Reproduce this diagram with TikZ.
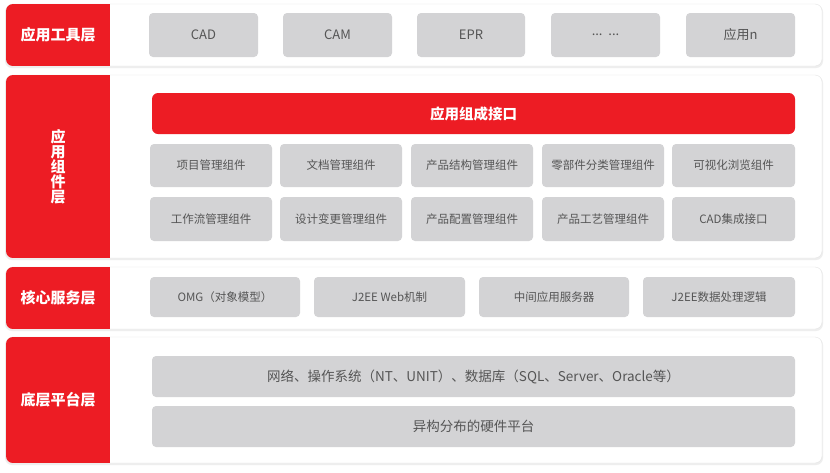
\documentclass[tikz,border=0pt]{standalone}
\usepackage{fontspec}
\setmainfont{Noto Sans CJK SC}
\definecolor{lred}{HTML}{ED1C24}
\definecolor{gbg}{HTML}{D3D3D5}
\definecolor{gtxt}{HTML}{555555}
\definecolor{edge}{HTML}{E4E4E4}
\definecolor{shad}{HTML}{EEEEEE}
\tikzset{
  gbox/.style={fill=gbg, rounded corners=4pt, inner sep=0pt, outer sep=0pt, text=gtxt, font=\fontsize{11.5}{13}\selectfont},
  gboxL/.style={gbox, font=\fontsize{13}{15}\selectfont},
  gboxB/.style={gbox, font=\fontsize{13.5}{15}\selectfont},
  redbar/.style={fill=lred, rounded corners=6pt, inner sep=0pt, text=white, font=\fontsize{14.5}{16}\selectfont\bfseries},
  lbl/.style={text=white, font=\fontsize{15}{15}\selectfont\bfseries, align=center, inner sep=0pt},
}
\newcommand{\layerbox}[2]{%
  \fill[shad, rounded corners=7pt] (5,#1+1) rectangle (823,#2+2);
  \draw[edge, fill=white, rounded corners=7pt] (6,#1) rectangle (822,#2);
  \begin{scope}
    \clip[rounded corners=7pt] (6,#1) rectangle (822,#2);
    \fill[lred] (6,#1) rectangle (110,#2);
  \end{scope}
}
\begin{document}
\begin{tikzpicture}[x=1pt,y=-1pt]
\useasboundingbox (0,0) rectangle (830,472);
\fill[white] (0,0) rectangle (830,472);
% layer 1
\layerbox{4}{66}
\node[lbl] (l1) at (58,35) {应用工具层};
\node[gboxL, minimum width=109pt, minimum height=44pt] (a1) at (203.5,35) {CAD};
\node[gboxL, minimum width=109pt, minimum height=44pt] (a2) at (337.5,35) {CAM};
\node[gboxL, minimum width=108pt, minimum height=44pt] (a3) at (471,35) {EPR};
\node[gboxL, minimum width=109pt, minimum height=44pt] (a4) at (605.5,35) {...\ \ ...};
\node[gboxL, minimum width=109pt, minimum height=44pt] (a5) at (740.5,35) {应用n};
% layer 2
\layerbox{75}{258}
\node[lbl] (l2) at (58,166.5) {应\\用\\组\\件\\层};
\node[redbar, minimum width=643pt, minimum height=41pt] (bar) at (473.5,113.5) {应用组成接口};
\node[gbox, minimum width=122pt, minimum height=43pt] (b1) at (211,165.5) {项目管理组件};
\node[gbox, minimum width=122pt, minimum height=43pt] (b2) at (341,165.5) {文档管理组件};
\node[gbox, minimum width=122pt, minimum height=43pt] (b3) at (472,165.5) {产品结构管理组件};
\node[gbox, minimum width=122pt, minimum height=43pt] (b4) at (603,165.5) {零部件分类管理组件};
\node[gbox, minimum width=123pt, minimum height=43pt] (b5) at (733.5,165.5) {可视化浏览组件};
\node[gbox, minimum width=122pt, minimum height=44pt] (c1) at (211,219) {工作流管理组件};
\node[gbox, minimum width=122pt, minimum height=44pt] (c2) at (341,219) {设计变更管理组件};
\node[gbox, minimum width=122pt, minimum height=44pt] (c3) at (472,219) {产品配置管理组件};
\node[gbox, minimum width=122pt, minimum height=44pt] (c4) at (603,219) {产品工艺管理组件};
\node[gbox, minimum width=123pt, minimum height=44pt] (c5) at (733.5,219) {CAD集成接口};
% layer 3
\layerbox{267}{329}
\node[lbl] (l3) at (58,298) {核心服务层};
\node[gbox, minimum width=150pt, minimum height=40pt] (d1) at (225,297) {OMG（对象模型）};
\node[gbox, minimum width=151pt, minimum height=40pt] (d2) at (389.5,297) {J2EE Web机制};
\node[gbox, minimum width=150pt, minimum height=40pt] (d3) at (554,297) {中间应用服务器};
\node[gbox, minimum width=152pt, minimum height=40pt] (d4) at (719,297) {J2EE数据处理逻辑};
% layer 4
\layerbox{337}{463}
\node[lbl] (l4) at (58,400) {底层平台层};
\node[gboxB, minimum width=643pt, minimum height=41pt] (e1) at (473.5,376.5) {网络、操作系统（NT、UNIT）、数据库（SQL、Server、Oracle等）};
\node[gboxB, minimum width=643pt, minimum height=41pt] (e2) at (473.5,426.5) {异构分布的硬件平台};
\end{tikzpicture}
\end{document}
